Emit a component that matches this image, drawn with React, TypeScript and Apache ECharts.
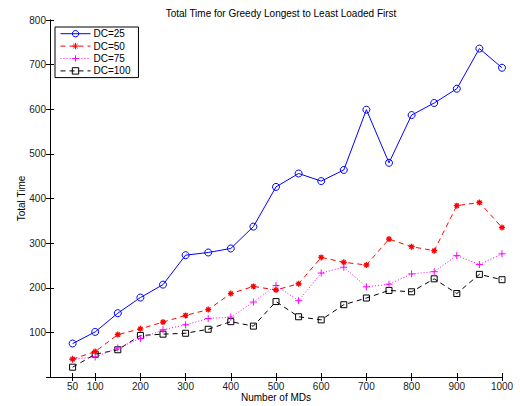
import React, { useEffect, useRef } from "react";
import * as echarts from "echarts";

const mds = [50, 100, 150, 200, 250, 300, 350, 400, 450, 500, 550, 600, 650, 700, 750, 800, 850, 900, 950, 1000];
const dc25 = [75, 101, 143, 178, 207, 273, 279, 288, 337, 426, 456, 439, 464, 599, 480, 587, 614, 646, 736, 693];
const dc50 = [40, 57, 95, 108, 123, 138, 151, 187, 203, 195, 209, 268, 257, 251, 309, 292, 283, 384, 391, 335];
const dc75 = [40, 45, 65, 86, 106, 117, 131, 134, 168, 205, 171, 233, 246, 202, 208, 231, 236, 272, 252, 276];
const dc100 = [22, 51, 61, 93, 96, 98, 107, 124, 114, 169, 135, 128, 162, 177, 194, 191, 220, 187, 230, 218];
const xTicks = [50, 100, 200, 300, 400, 500, 600, 700, 800, 900, 1000];
const seriesNames = ["DC=25", "DC=50", "DC=75", "DC=100"];

const FONT = "'Liberation Sans', Arial, Helvetica, sans-serif";
const ASTERISK = "path://M0,5L10,5M5,0L5,10M1.5,1.5L8.5,8.5M8.5,1.5L1.5,8.5";
const PLUS = "path://M0,5L10,5M5,0L5,10";

export default function App() {
  const ref = useRef<HTMLDivElement>(null);
  useEffect(() => {
    document.body.style.margin = "0";
    const chart = echarts.init(ref.current!, null, { renderer: "svg" });
    const pairs = (arr: number[]) => mds.map((x, i) => [x, arr[i]]);
    const axisLine = { show: true, lineStyle: { color: "#000", width: 1 } };
    const labelStyle = { color: "#222", fontSize: 10, fontFamily: FONT };
    chart.setOption({
      animation: false,
      backgroundColor: "#fff",
      title: {
        text: "Total Time for Greedy Longest to Least Loaded First",
        left: 276,
        textAlign: "center",
        top: 3,
        textStyle: { fontSize: 10, fontWeight: "normal", color: "#000", fontFamily: FONT },
      },
      grid: { left: 50, right: 18, top: 20, bottom: 29, containLabel: false, outerBoundsMode: "none" },
      legend: {
        orient: "vertical",
        left: 55,
        top: 27,
        data: seriesNames,
        borderColor: "#000",
        borderWidth: 1,
        backgroundColor: "#fff",
        padding: [1, 8, 1, 5],
        itemWidth: 30,
        itemHeight: 8,
        itemGap: 1,
        lineStyle: { width: 1 },
        itemStyle: { borderWidth: 1 },
        textStyle: { fontSize: 10, color: "#000", fontFamily: FONT, padding: [0, 0, 0, -2] },
        selectedMode: false,
      },
      xAxis: [
        {
          type: "value",
          min: 0,
          max: 1000,
          name: "Number of MDs",
          nameLocation: "middle",
          nameGap: 15,
          nameMoveOverlap: false,
          nameTextStyle: { fontSize: 10, color: "#000", fontFamily: FONT },
          axisLine,
          axisTick: { show: true, inside: true, length: 4, customValues: xTicks, lineStyle: { color: "#000" } },
          axisLabel: { ...labelStyle, margin: 4, customValues: xTicks, formatter: (v: number) => String(v) },
          splitLine: { show: false },
        },
        {
          type: "value",
          position: "top",
          min: 0,
          max: 1000,
          axisLine,
          axisTick: { show: true, inside: true, length: 4, customValues: xTicks, lineStyle: { color: "#000" } },
          axisLabel: { show: false, customValues: xTicks },
          splitLine: { show: false },
        },
      ],
      yAxis: [
        {
          type: "value",
          min: 0,
          max: 800,
          interval: 100,
          name: "Total Time",
          nameLocation: "middle",
          nameGap: 24,
          nameMoveOverlap: false,
          nameTextStyle: { fontSize: 10, color: "#000", fontFamily: FONT },
          axisLine,
          axisTick: { show: true, inside: true, length: 4, lineStyle: { color: "#000" } },
          axisLabel: { ...labelStyle, margin: 4, formatter: (v: number) => (v === 0 ? "" : String(v)) },
          splitLine: { show: false },
        },
        {
          type: "value",
          position: "right",
          min: 0,
          max: 800,
          interval: 100,
          axisLine,
          axisTick: { show: true, inside: true, length: 4, lineStyle: { color: "#000" } },
          axisLabel: { show: false },
          splitLine: { show: false },
        },
      ],
      series: [
        {
          name: seriesNames[0],
          type: "line",
          data: pairs(dc25),
          symbol: "circle",
          symbolSize: 7,
          showAllSymbol: true,
          lineStyle: { color: "#0000ff", width: 1, type: "solid" },
          itemStyle: { color: "none", borderColor: "#0000ff", borderWidth: 1 },
          emphasis: { disabled: true },
          z: 4,
        },
        {
          name: seriesNames[1],
          type: "line",
          data: pairs(dc50),
          symbol: ASTERISK,
          symbolSize: 6,
          showAllSymbol: true,
          lineStyle: { color: "#ff0000", width: 1, type: [5, 4] },
          itemStyle: { color: "none", borderColor: "#ff0000", borderWidth: 1.3 },
          emphasis: { disabled: true },
          z: 3,
        },
        {
          name: seriesNames[2],
          type: "line",
          data: pairs(dc75),
          symbol: PLUS,
          symbolSize: 7,
          showAllSymbol: true,
          lineStyle: { color: "#ff00ff", width: 1, type: [1, 2] },
          itemStyle: { color: "none", borderColor: "#ff00ff", borderWidth: 1 },
          emphasis: { disabled: true },
          z: 2,
        },
        {
          name: seriesNames[3],
          type: "line",
          data: pairs(dc100),
          symbol: "rect",
          symbolSize: 6,
          showAllSymbol: true,
          lineStyle: { color: "#000000", width: 1, type: [5, 4] },
          itemStyle: { color: "none", borderColor: "#000000", borderWidth: 1 },
          emphasis: { disabled: true },
          z: 1,
        },
      ],
    });
    return () => chart.dispose();
  }, []);
  return (
    <div
      ref={ref}
      style={{ position: "absolute", left: 0, top: 0, width: 520, height: 406, background: "#fff" }}
    />
  );
}
